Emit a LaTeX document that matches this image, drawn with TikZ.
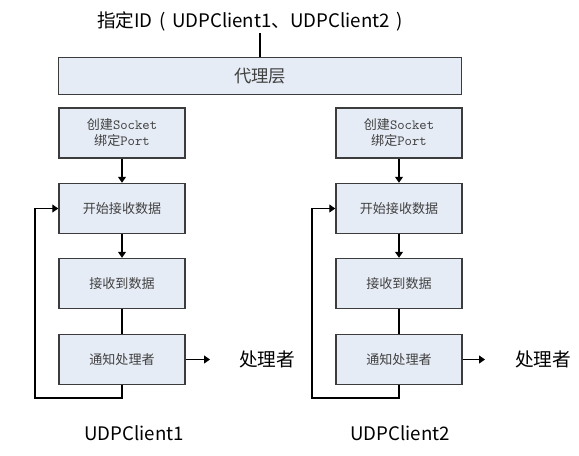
\documentclass[tikz,border=0pt]{standalone}
\usepackage{fontspec}
\setmainfont{Noto Sans CJK SC}
\usetikzlibrary{arrows.meta}
\definecolor{boxfill}{RGB}{230,236,246}
\definecolor{boxline}{RGB}{60,60,60}
\definecolor{boxtext}{RGB}{64,64,64}
\newcommand{\mono}[1]{{\ttfamily\fontsize{10.5}{12}\selectfont #1}}

\begin{document}
\begin{tikzpicture}[x=0.75pt,y=-0.75pt,
  blk/.style={draw=boxline,line width=1.1pt,fill=boxfill,minimum width=94.5pt,
    minimum height=37.5pt,inner sep=0pt,align=center,text=boxtext,
    font=\fontsize{9.8}{12}\selectfont},
  conn/.style={line width=0.8pt},
  arr/.style={conn,-{Triangle[width=6pt,length=4.5pt]}},
  lbl/.style={font=\fontsize{14}{16}\selectfont}]
\useasboundingbox [fill=white] (0,0) rectangle (579,455);
\node[lbl] (title) at (250,21) {指定ID\hspace{0.35em}(\hspace{0.35em}UDPClient1、UDPClient2\hspace{0.35em})};
\coordinate (tl) at (260,33);
\node[blk,minimum width=302.5pt,minimum height=28pt,font=\fontsize{13}{15}\selectfont] (proxy) at (260,76) {代理层};
\draw[conn] (tl) -- (proxy.north);
% UDPClient1
\node[blk] (l1) at (122,133) {创建\mono{Socket}\\绑定\mono{Port}};
\node[blk] (l2) at (122,208.5) {开始接收数据};
\node[blk] (l3) at (122,283.5) {接收到数据};
\node[blk] (l4) at (122,359.5) {通知处理者};
\coordinate (lb) at (35,398);
\coordinate (la) at (210,359.5);
\node[lbl] (lh) at (267,359) {处理者};
\node[lbl] (lc) at (134,433) {UDPClient1};
\draw[arr] (l1) -- (l2);
\draw[arr] (l2) -- (l3);
\draw[conn] (l3) -- (l4);
\draw[arr] (l4) -- (la);
\draw[arr] (l4.south) |- (lb) |- (l2.west);
% UDPClient2
\node[blk] (r1) at (399,133) {创建\mono{Socket}\\绑定\mono{Port}};
\node[blk] (r2) at (399,208.5) {开始接收数据};
\node[blk] (r3) at (399,283.5) {接收到数据};
\node[blk] (r4) at (399,359.5) {通知处理者};
\coordinate (rb) at (312,398);
\coordinate (ra) at (485,359.5);
\node[lbl] (rh) at (543,359) {处理者};
\node[lbl] (rc) at (400,433) {UDPClient2};
\draw[arr] (r1) -- (r2);
\draw[arr] (r2) -- (r3);
\draw[conn] (r3) -- (r4);
\draw[arr] (r4) -- (ra);
\draw[arr] (r4.south) |- (rb) |- (r2.west);
\end{tikzpicture}
\end{document}
